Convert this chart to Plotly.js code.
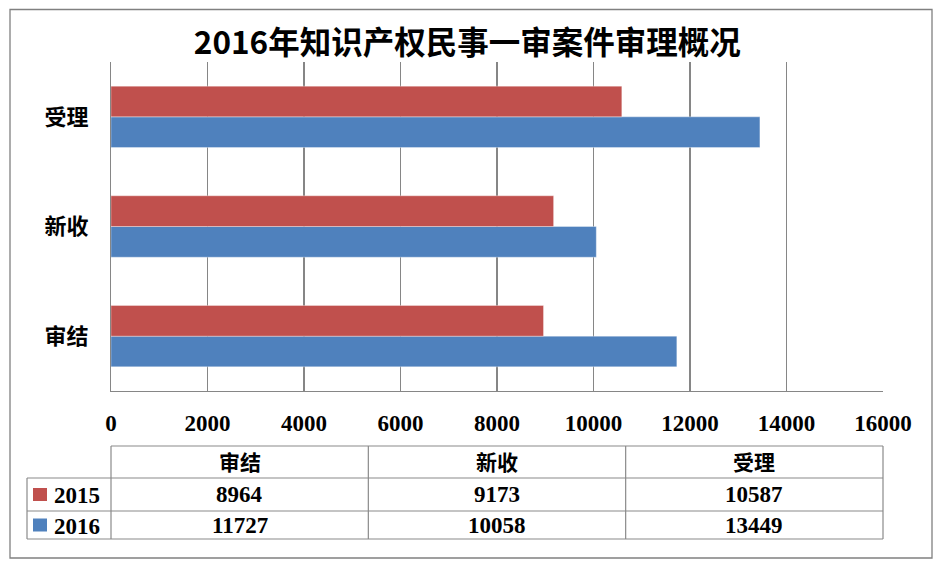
<!DOCTYPE html>
<html>
<head>
<meta charset="utf-8">
<script src="https://cdn.plot.ly/plotly-3.0.1.min.js"></script>
<style>html,body{margin:0;padding:0;background:#fff;}#chart{width:944px;height:568px;}</style>
</head>
<body>
<div id="chart"></div>
<script>
// ---- data ----
var categories = ['审结', '新收', '受理'];
var seriesNames = ['2015', '2016'];
var values2015 = [8964, 9173, 10587];
var values2016 = [11727, 10058, 13449];
var seriesColors = ['#C0504D', '#4F81BD'];
var titleText = '2016年知识产权民事一审案件审理概况';
var xTickVals = [0, 2000, 4000, 6000, 8000, 10000, 12000, 14000, 16000];

// ---- layout geometry (pixels) ----
var W = 944, H = 568;
var L = 111, R = 883, T = 62, B = 391;
function px(x) { return (x - L) / (R - L); }
function py(y) { return (B - y) / (B - T); }

var serifFont = 'Liberation Serif, Noto Sans CJK SC, serif';
var cjkFont = 'Noto Sans CJK SC, sans-serif';
var gridColor = '#868686';
var borderColor = '#8a8a8a';

var traces = [
  { type: 'bar', orientation: 'h', name: seriesNames[1], y: categories, x: values2016,
    marker: { color: seriesColors[1], line: { color: 'rgba(255,255,255,0.35)', width: 1 } }, hoverinfo: 'x' },
  { type: 'bar', orientation: 'h', name: seriesNames[0], y: categories, x: values2015,
    marker: { color: seriesColors[0], line: { color: 'rgba(255,255,255,0.35)', width: 1 } }, hoverinfo: 'x' }
];

var shapes = [];
var annotations = [];

// outer border
shapes.push({ type: 'rect', xref: 'paper', yref: 'paper', x0: px(10), x1: px(932), y0: py(9.5), y1: py(558),
  line: { color: '#808080', width: 1.3 }, fillcolor: 'rgba(0,0,0,0)', layer: 'below' });

// data table
var colEdges = [L];
for (var i = 1; i <= categories.length; i++) colEdges.push(L + (R - L) * i / categories.length);
var rowTop = 446, rowH1 = 478, rowH2 = 511, rowBot = 539, legLeft = 27;
function hline(x0, x1, y) {
  shapes.push({ type: 'line', xref: 'paper', yref: 'paper', x0: px(x0), x1: px(x1), y0: py(y), y1: py(y), line: { color: borderColor, width: 1.2 } });
}
function vline(x, y0, y1) {
  shapes.push({ type: 'line', xref: 'paper', yref: 'paper', x0: px(x), x1: px(x), y0: py(y0), y1: py(y1), line: { color: borderColor, width: 1.2 } });
}
hline(L, R, rowTop);
hline(legLeft, R, rowH1);
hline(legLeft, R, rowH2);
hline(legLeft, R, rowBot);
vline(legLeft, rowH1, rowBot);
colEdges.forEach(function (x) { vline(x, rowTop, rowBot); });

// header labels
categories.forEach(function (c, i) {
  annotations.push({ xref: 'paper', yref: 'paper', x: px((colEdges[i] + colEdges[i + 1]) / 2), y: py((rowTop + rowH1) / 2 - 1),
    text: c, showarrow: false, xanchor: 'center', yanchor: 'middle', font: { family: cjkFont, size: 21, color: '#000', weight: 'bold' } });
});
// rows
var rowsData = [values2015, values2016];
var rowTops = [rowH1, rowH2];
var rowBots = [rowH2, rowBot];
rowsData.forEach(function (vals, r) {
  var cy = (rowTops[r] + rowBots[r]) / 2;
  // legend swatch
  shapes.push({ type: 'rect', xref: 'paper', yref: 'paper', x0: px(33), x1: px(47), y0: py(cy - 6.5), y1: py(cy + 6.5),
    line: { width: 0 }, fillcolor: seriesColors[r] });
  annotations.push({ xref: 'paper', yref: 'paper', x: px(52), y: py(cy + 1), text: seriesNames[r], showarrow: false,
    xanchor: 'left', yanchor: 'middle', font: { family: serifFont, size: 23, color: '#000', weight: 'bold' } });
  vals.forEach(function (v, i) {
    annotations.push({ xref: 'paper', yref: 'paper', x: px((colEdges[i] + colEdges[i + 1]) / 2), y: py(cy),
      text: String(v), showarrow: false, xanchor: 'center', yanchor: 'middle', font: { family: serifFont, size: 23, color: '#000', weight: 'bold' } });
  });
});

var layout = {
  width: W, height: H,
  margin: { l: L, r: W - R, t: T, b: H - B, pad: 0 },
  paper_bgcolor: '#ffffff', plot_bgcolor: '#ffffff',
  showlegend: false,
  barmode: 'group', bargap: 0.44, bargroupgap: 0,
  title: { text: titleText, x: 0.495, xref: 'container', xanchor: 'center', y: 1 - 43 / H, yref: 'container', yanchor: 'middle',
    font: { family: cjkFont, size: 31.5, color: '#000', weight: 'bold' } },
  xaxis: { range: [0, 16000], tickvals: xTickVals, ticktext: xTickVals.map(String), showgrid: true, gridcolor: gridColor, gridwidth: 1.2,
    zeroline: false, showline: true, linecolor: gridColor, linewidth: 1.2, ticks: '', ticklabelstandoff: 11,
    tickfont: { family: serifFont, size: 23, color: '#000', weight: 'bold' }, fixedrange: true },
  yaxis: { type: 'category', categoryorder: 'array', categoryarray: categories, showgrid: false, zeroline: false,
    showline: true, linecolor: gridColor, linewidth: 1.2, ticks: '', ticklabelstandoff: 17,
    tickfont: { family: cjkFont, size: 22, color: '#000', weight: 'bold' }, fixedrange: true },
  shapes: shapes,
  annotations: annotations
};

Plotly.newPlot('chart', traces, layout, { displayModeBar: false, staticPlot: true });
</script>
</body>
</html>
